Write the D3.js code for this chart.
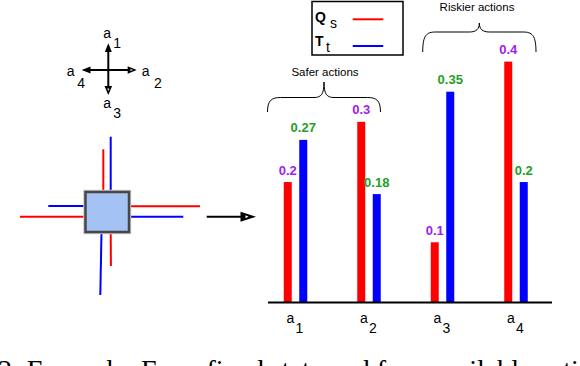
<!DOCTYPE html>
<html>
<head>
<meta charset="utf-8">
<script src="https://cdn.jsdelivr.net/npm/d3@7/dist/d3.min.js"></script>
<style>
  html, body { margin: 0; padding: 0; background: #fff; }
  svg { display: block; }
</style>
</head>
<body>
<svg id="chart" width="580" height="366"></svg>
<script>
// ---- data ----
const categories = ["a1", "a2", "a3", "a4"];
const tickBase = ["a", "a", "a", "a"];
const tickSub = ["1", "2", "3", "4"];
const qsValues = [0.2, 0.3, 0.1, 0.4];
const ttValues = [0.27, 0.18, 0.35, 0.2];
const qsLabels = ["0.2", "0.3", "0.1", "0.4"];
const ttLabels = ["0.27", "0.18", "0.35", "0.2"];
const seriesNames = ["Q", "T"];
const seriesSubs = ["s", "t"];
const groupNames = ["Safer actions", "Riskier actions"];
const captionText = "2: Example: For a fixed state and four available acti";

// ---- styles ----
const RED = "#ff0000", BLUE = "#0000ff", PURPLE = "#a020f0", GREEN = "#1fa01f";
const SANS = "'Liberation Sans', Arial, Helvetica, sans-serif";
const SERIF = "'Liberation Serif', 'Times New Roman', serif";

const svg = d3.select("#chart");

// ---- scales ----
const x = d3.scalePoint().domain(categories).range([295.5, 516]);
const y = d3.scaleLinear().domain([0, 0.4]).range([302.5, 61.6]);
const barW = 8, off = 7.75;

// bars
const g = svg.append("g");
g.selectAll("rect.qs").data(categories).join("rect")
  .attr("x", (d) => x(d) - off - barW / 2)
  .attr("y", (d, i) => y(qsValues[i]))
  .attr("width", barW)
  .attr("height", (d, i) => y(0) - y(qsValues[i]))
  .attr("fill", RED);
g.selectAll("rect.tt").data(categories).join("rect")
  .attr("class", "tt")
  .attr("x", (d) => x(d) + off - barW / 2)
  .attr("y", (d, i) => y(ttValues[i]))
  .attr("width", barW)
  .attr("height", (d, i) => y(0) - y(ttValues[i]))
  .attr("fill", BLUE);

// value labels
g.selectAll("text.ql").data(categories).join("text")
  .attr("x", (d) => x(d) - off)
  .attr("y", (d, i) => y(qsValues[i]) - 7.5)
  .attr("text-anchor", "middle")
  .attr("font-family", SANS).attr("font-weight", "bold").attr("font-size", 13)
  .attr("fill", PURPLE)
  .text((d, i) => qsLabels[i]);
g.selectAll("text.tl").data(categories).join("text")
  .attr("x", (d) => x(d) + off)
  .attr("y", (d, i) => y(ttValues[i]) - 7.5)
  .attr("text-anchor", "middle")
  .attr("font-family", SANS).attr("font-weight", "bold").attr("font-size", 13)
  .attr("fill", GREEN)
  .text((d, i) => ttLabels[i]);

// baseline axis
svg.append("line")
  .attr("x1", 268).attr("x2", 552)
  .attr("y1", y(0)).attr("y2", y(0))
  .attr("stroke", "#000").attr("stroke-width", 2);

// tick labels with subscripts
const ticks = svg.selectAll("g.tick").data(categories).join("g")
  .attr("transform", (d) => `translate(${x(d)},0)`);
ticks.append("text")
  .attr("x", -9).attr("y", 322.7)
  .attr("font-family", SANS).attr("font-size", 14)
  .text((d, i) => tickBase[i]);
ticks.append("text")
  .attr("x", 0).attr("y", 332.7)
  .attr("font-family", SANS).attr("font-size", 14)
  .text((d, i) => tickSub[i]);

// ---- braces ----
function brace(x0, x1, yEnd, yMid, yTip) {
  const xc = (x0 + x1) / 2;
  const r = 13, r2 = 10;
  return `M${x0},${yEnd} C${x0},${yMid + 3} ${x0 + 4},${yMid} ${x0 + r},${yMid}` +
    ` L${xc - r2},${yMid} C${xc - 3},${yMid} ${xc},${yMid - 3} ${xc},${yTip}` +
    ` C${xc},${yMid - 3} ${xc + 3},${yMid} ${xc + r2},${yMid}` +
    ` L${x1 - r},${yMid} C${x1 - 4},${yMid} ${x1},${yMid + 3} ${x1},${yEnd}`;
}
svg.append("path").attr("d", brace(267.5, 380.5, 112, 97.5, 82))
  .attr("fill", "none").attr("stroke", "#000").attr("stroke-width", 1);
svg.append("path").attr("d", brace(422.7, 536, 52, 32, 23))
  .attr("fill", "none").attr("stroke", "#000").attr("stroke-width", 1);
svg.append("text").attr("x", 325).attr("y", 76).attr("text-anchor", "middle")
  .attr("font-family", SANS).attr("font-size", 11.5).text(groupNames[0]);
svg.append("text").attr("x", 477).attr("y", 11).attr("text-anchor", "middle")
  .attr("font-family", SANS).attr("font-size", 11.5).text(groupNames[1]);

// ---- legend ----
svg.append("rect").attr("x", 312).attr("y", 1.5).attr("width", 91).attr("height", 53.5)
  .attr("fill", "#fff").attr("stroke", "#000").attr("stroke-width", 1.5);
const legColors = [RED, BLUE];
const legY = [22, 46];
const legSubY = [27.5, 52.3];
const legSubX = [330, 326];
seriesNames.forEach((n, i) => {
  svg.append("text").attr("x", 315).attr("y", legY[i])
    .attr("font-family", SANS).attr("font-weight", "bold").attr("font-size", 14).text(n);
  svg.append("text").attr("x", legSubX[i]).attr("y", legSubY[i])
    .attr("font-family", SANS).attr("font-size", 14).text(seriesSubs[i]);
  svg.append("line").attr("x1", 352.7).attr("x2", 383.3)
    .attr("y1", [19.3, 46][i]).attr("y2", [19.3, 46][i])
    .attr("stroke", legColors[i]).attr("stroke-width", 2);
});

// ---- left diagram: action compass ----
const cx = 108.3, cy = 70;
const comp = svg.append("g");
comp.append("line").attr("x1", cx).attr("x2", cx).attr("y1", 46).attr("y2", 92)
  .attr("stroke", "#000").attr("stroke-width", 2);
comp.append("line").attr("x1", 84).attr("x2", 134).attr("y1", cy).attr("y2", cy)
  .attr("stroke", "#000").attr("stroke-width", 2);
comp.append("path").attr("d", `M${cx},43.3 L${cx - 3.5},52 L${cx + 3.5},52 Z`).attr("fill", "#000");
comp.append("path").attr("d", `M81.7,${cy} L90.5,${cy - 3.5} L90.5,${cy + 3.5} Z`).attr("fill", "#000");
comp.append("path").attr("d", `M${cx},95 L${cx - 3.8},86 L${cx + 3.8},86 Z`).attr("fill", "#000");
comp.append("path").attr("d", `M${cx},91 L${cx - 1},88.5 L${cx + 1},88.5 Z`).attr("fill", "#fff");
comp.append("path").attr("d", `M136.7,${cy} L127.7,${cy - 3.8} L127.7,${cy + 3.8} Z`).attr("fill", "#000");
comp.append("path").attr("d", `M133,${cy} L130.5,${cy - 1} L130.5,${cy + 1} Z`).attr("fill", "#fff");
const compLabels = [
  { ax: 103.3, ay: 37.7, sx: 113.3, sy: 47.7, s: tickSub[0] },
  { ax: 141.7, ay: 76, sx: 154, sy: 88.3, s: tickSub[1] },
  { ax: 103.3, ay: 108.3, sx: 113.3, sy: 118.3, s: tickSub[2] },
  { ax: 66.7, ay: 76, sx: 77.3, sy: 88.3, s: tickSub[3] }
];
compLabels.forEach((l) => {
  comp.append("text").attr("x", l.ax).attr("y", l.ay)
    .attr("font-family", SANS).attr("font-size", 14).text("a");
  comp.append("text").attr("x", l.sx).attr("y", l.sy)
    .attr("font-family", SANS).attr("font-size", 14).text(l.s);
});

// ---- left diagram: state box with estimate lines ----
const st = svg.append("g");
const segs = [
  [103.3, 149.3, 103.3, 192, RED],
  [110.7, 136.7, 110.7, 192, BLUE],
  [48.3, 206, 85, 206, BLUE],
  [20, 216.7, 85, 216.7, RED],
  [129, 206.3, 200, 206.3, RED],
  [129, 216.7, 183.3, 216.7, BLUE],
  [101.5, 232, 100.3, 295, BLUE],
  [110.7, 232, 110.9, 266, RED]
];
st.selectAll("line").data(segs).join("line")
  .attr("x1", (d) => d[0]).attr("y1", (d) => d[1])
  .attr("x2", (d) => d[2]).attr("y2", (d) => d[3])
  .attr("stroke", (d) => d[4]).attr("stroke-width", 2);
st.append("rect").attr("x", 85.5).attr("y", 192).attr("width", 43.5).attr("height", 40)
  .attr("fill", "none").attr("stroke", "#c8c8c8").attr("stroke-width", 4.5);
st.append("rect").attr("x", 85.5).attr("y", 192).attr("width", 43.5).attr("height", 40)
  .attr("fill", "#a4c2f4").attr("stroke", "#474747").attr("stroke-width", 2.5);

// connecting arrow
svg.append("line").attr("x1", 206.7).attr("x2", 244).attr("y1", 216.7).attr("y2", 216.7)
  .attr("stroke", "#000").attr("stroke-width", 2);
svg.append("path").attr("d", "M256,216.7 L240.5,211.7 L240.5,221.7 Z").attr("fill", "#000");
svg.append("path").attr("d", "M248.5,216.7 L245.5,215.2 L245.5,218.2 Z").attr("fill", "#fff");

// ---- caption (cut off at the bottom, as in the source) ----
svg.append("text").attr("x", -2).attr("y", 379)
  .attr("font-family", SERIF).attr("font-size", 28).text(captionText);
</script>
</body>
</html>
